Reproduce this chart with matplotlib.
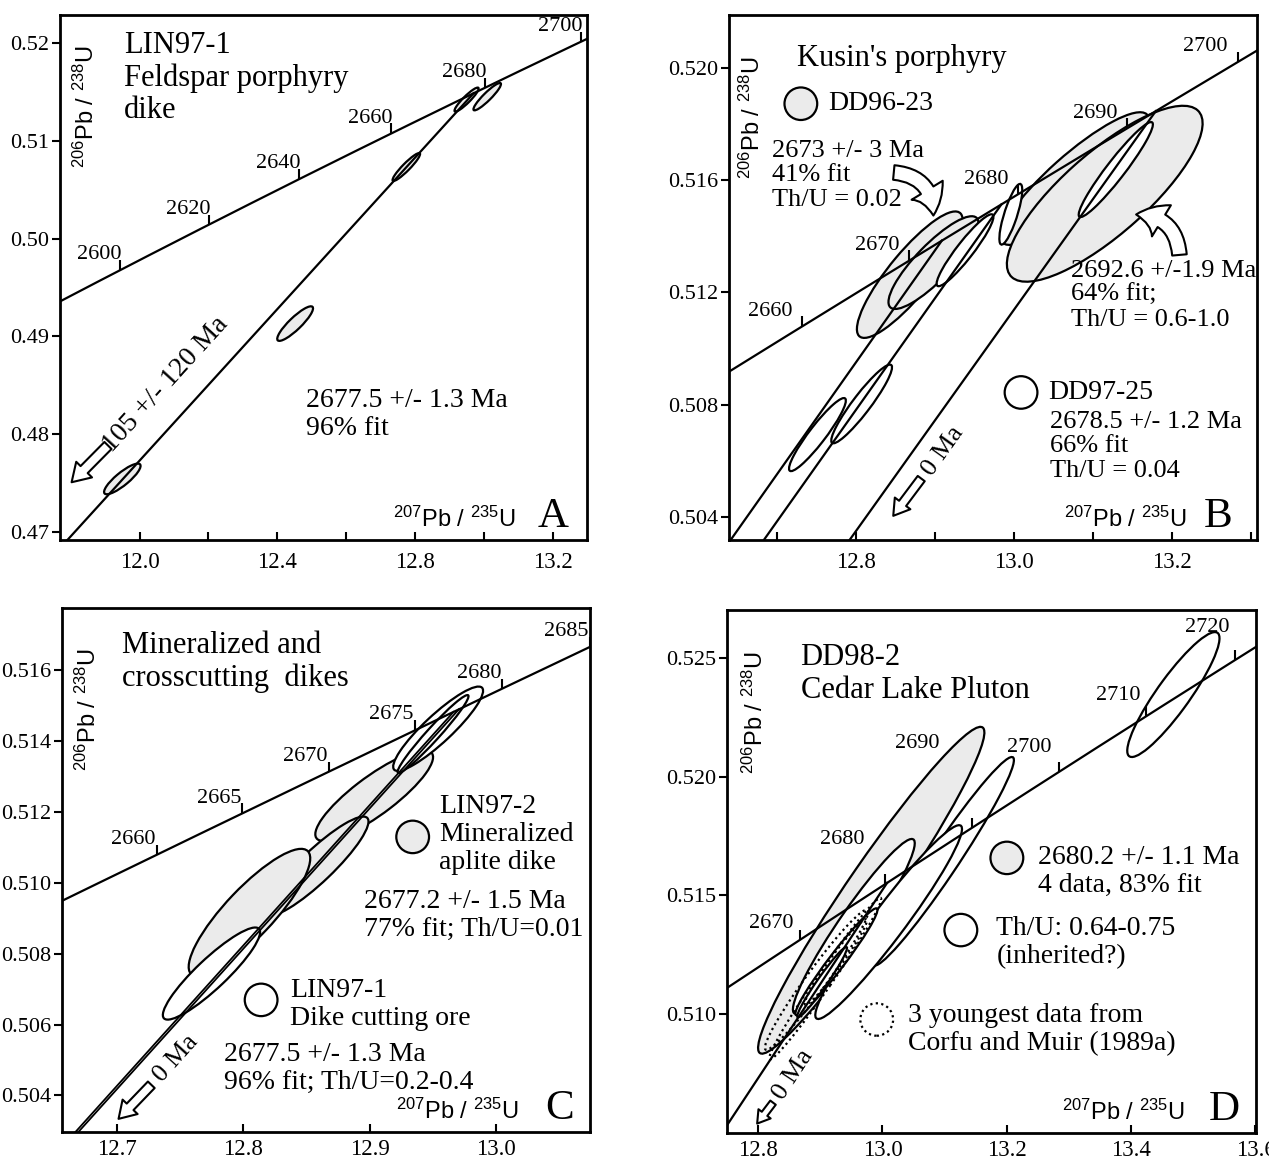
import numpy as np
import matplotlib.pyplot as plt
from matplotlib.patches import Ellipse, FancyArrowPatch, Circle
from matplotlib.transforms import Affine2D

plt.rcParams['font.family'] = ['Liberation Serif', 'DejaVu Serif']
plt.rcParams['mathtext.fontset'] = 'custom'
plt.rcParams['mathtext.rm'] = 'Liberation Sans'
plt.rcParams['mathtext.it'] = 'Liberation Sans:italic'

# decay constants (1/yr)
L238 = 1.55125e-10
L235 = 9.8485e-10
GRAY = '#ebebeb'

# ellipses: (207Pb/235U, 206Pb/238U, sx, sy, rho)

# --- A : LIN97-1 feldspar porphyry dike
a_xlim = (11.769, 13.30)
a_ylim = (0.46917, 0.52291)
a_xticks = [12.0, 12.4, 12.8, 13.2]
a_xminor = [12.2, 12.6, 13.0]
a_yticks = [0.47, 0.48, 0.49, 0.50, 0.51, 0.52]
a_ages = [2600, 2620, 2640, 2660, 2680, 2700]
a_gray = [(11.950, 0.47542, 0.053, 0.00157, 0.85),
          (12.452, 0.49132, 0.052, 0.00177, 0.88),
          (12.775, 0.50735, 0.040, 0.00143, 0.93),
          (12.950, 0.51425, 0.035, 0.00123, 0.92),
          (13.010, 0.51455, 0.040, 0.00140, 0.92)]
a_discordia = [(105, 2677.5)]

# --- B : Kusin's porphyry
b_xlim = (12.639, 13.308)
b_ylim = (0.50319, 0.52187)
b_xticks = [12.8, 13.0, 13.2]
b_xminor = [12.7, 12.9, 13.1, 13.3]
b_yticks = [0.504, 0.508, 0.512, 0.516, 0.520]
b_ages = [2660, 2670, 2680, 2690, 2700]
b_gray = [(12.868, 0.51263, 0.067, 0.00225, 0.86),
          (12.898, 0.51306, 0.057, 0.00165, 0.85),
          (13.077, 0.51605, 0.094, 0.00236, 0.88),
          (13.115, 0.51551, 0.124, 0.00313, 0.80)]
b_white = [(12.938, 0.51350, 0.036, 0.00128, 0.93),
           (12.751, 0.50694, 0.036, 0.00130, 0.93),
           (12.807, 0.50803, 0.0385, 0.00140, 0.93),
           (12.996, 0.51478, 0.0145, 0.00108, 0.80),
           (13.129, 0.51637, 0.047, 0.00169, 0.95)]
b_discordia = [(0, 2673), (0, 2678.5), (0, 2692.6)]

# --- C : mineralized and crosscutting dikes
c_xlim = (12.657, 13.074)
c_ylim = (0.50297, 0.51776)
c_xticks = [12.7, 12.8, 12.9, 13.0]
c_yticks = [0.504, 0.506, 0.508, 0.510, 0.512, 0.514, 0.516]
c_ages = [2660, 2665, 2670, 2675, 2680, 2685]
c_gray = [(12.9035, 0.51246, 0.0465, 0.00128, 0.85),
          (12.858, 0.51047, 0.041, 0.00140, 0.90),
          (12.805, 0.50916, 0.048, 0.00180, 0.85)]
c_white = [(12.954, 0.51435, 0.0355, 0.00119, 0.90),
           (12.950, 0.51420, 0.028, 0.00110, 0.97),
           (12.775, 0.50744, 0.0384, 0.00130, 0.90)]
c_discordia = [(0, 2677.2), (0, 2677.5)]

# --- D : DD98-2 Cedar Lake pluton
d_xlim = (12.750, 13.601)
d_ylim = (0.50500, 0.52702)
d_xticks = [12.8, 13.0, 13.2, 13.4, 13.6]
d_yticks = [0.510, 0.515, 0.520, 0.525]
d_ages = [2670, 2680, 2690, 2700, 2710, 2720]
d_gray = [(12.982, 0.51522, 0.182, 0.00688, 0.965)]
d_white = [(12.954, 0.51370, 0.098, 0.00368, 0.95),
           (13.098, 0.51644, 0.1135, 0.00439, 0.97),
           (13.010, 0.51388, 0.118, 0.00408, 0.96),
           (12.926, 0.51221, 0.066, 0.00225, 0.97),
           (13.468, 0.52346, 0.0742, 0.00263, 0.90),
           (12.903, 0.51135, 0.040, 0.00148, 0.97)]
d_dotted = [(12.894, 0.51145, 0.083, 0.00295, 0.97),
            (12.908, 0.51150, 0.090, 0.00340, 0.985),
            (12.925, 0.51220, 0.050, 0.00180, 0.97)]
d_discordia = [(0, 2680.2)]


def concordia(t):
    t = np.asarray(t, dtype=float) * 1e6
    return np.exp(L235 * t) - 1, np.exp(L238 * t) - 1


def setup(ax, xlim, ylim, xticks, xminor, yticks, yfmt, xpad=9):
    ax.set_xlim(xlim)
    ax.set_ylim(ylim)
    ax.set_xticks(xticks)
    ax.set_xticks(xminor, minor=True)
    ax.set_xticklabels([f'{v:.1f}' for v in xticks])
    ax.set_yticks(yticks)
    ax.set_yticklabels([yfmt.format(v) for v in yticks])
    ax.tick_params(axis='x', which='both', direction='in', length=6, width=1.5,
                   labelsize=16.5, pad=xpad)
    ax.tick_params(axis='y', direction='out', length=6, width=1.5, labelsize=16, pad=2)
    for s in ax.spines.values():
        s.set_linewidth(2)


def add_ellipse(ax, e, fc, ls='-'):
    x, y, sx, sy, rho = e
    tr = Affine2D().scale(sx, sy).translate(x, y) + ax.transData
    ax.add_patch(Ellipse((0, 0), 2 * np.sqrt(1 + rho), 2 * np.sqrt(1 - rho), angle=45,
                         transform=tr, fc=fc, ec='black', lw=1.6, ls=ls, zorder=2))


def draw_concordia(ax, ages, offsets):
    tt = np.arange(2400, 2800.1, 0.5)
    cx, cy = concordia(tt)
    ax.plot(cx, cy, color='black', lw=1.6, zorder=3)
    tx, ty = concordia(ages)
    ax.plot(tx, ty, ls='none', marker=2, ms=7, mew=1.5, color='black', zorder=3)
    for age, x, y, off in zip(ages, tx, ty, offsets):
        ax.annotate(str(age), (x, y), xytext=off, textcoords='offset points',
                    ha='center', va='center', fontsize=16, zorder=4)


def draw_discordia(ax, lines, lw=1.6):
    for lo, up in lines:
        x, y = concordia([lo, up])
        ax.plot(x, y, color='black', lw=lw, zorder=3)


def line_angle(ax, lo, up):
    x, y = concordia([lo, up])
    p = ax.transData.transform(np.column_stack([x, y]))
    return np.degrees(np.arctan2(p[1, 1] - p[0, 1], p[1, 0] - p[0, 0]))


def hollow_arrow(ax, start, end, rad=0.0, scale=16, hw=1.0, hl=0.8, tw=0.45):
    ax.add_patch(FancyArrowPatch(start, end, transform=ax.transAxes,
                                 arrowstyle=f'simple,head_length={hl},head_width={hw},tail_width={tw}',
                                 connectionstyle=f'arc3,rad={rad}', mutation_scale=scale,
                                 shrinkA=0, shrinkB=0, fc='white', ec='black', lw=1.5, zorder=5))


def labels(ax, ylab_pos, xlab_x, letter, letter_x):
    ax.text(ylab_pos[0], ylab_pos[1], r'$^{206}$Pb / $^{238}$U', rotation=90, ha='center',
            va='top', transform=ax.transAxes, fontsize=17, family='Liberation Sans')
    ax.text(xlab_x, 0.025, r'$^{207}$Pb / $^{235}$U', ha='right', va='baseline',
            transform=ax.transAxes, fontsize=17, family='Liberation Sans')
    ax.text(letter_x, 0.025, letter, ha='right', va='baseline', transform=ax.transAxes,
            fontsize=31)


def legend_mark(ax, x, y, fc, ls='-'):
    # legend circle, radius given in axes width
    ax.add_patch(Circle((x, y), 0.031, transform=ax.transAxes, fc=fc, ec='black',
                        lw=1.6, ls=ls, zorder=5))


fig = plt.figure(figsize=(12.69, 11.63), dpi=100)
axA = fig.add_axes([0.0473, 0.5357, 0.4153, 0.4514])
axB = fig.add_axes([0.5745, 0.5357, 0.4161, 0.4514])
axC = fig.add_axes([0.0489, 0.0267, 0.4161, 0.4506])
axD = fig.add_axes([0.5729, 0.0258, 0.4169, 0.4497])
txt = dict(fontsize=20, linespacing=1.15, va='top', ha='left')

# ---------- A
ax = axA
setup(ax, a_xlim, a_ylim, a_xticks, a_xminor, a_yticks, '{:.2f}')
for e in a_gray:
    add_ellipse(ax, e, GRAY)
draw_concordia(ax, a_ages, [(-15, 11)] * len(a_ages))
draw_discordia(ax, a_discordia)
ax.text(0.122, 0.97, 'LIN97-1\nFeldspar porphyry\ndike', transform=ax.transAxes,
        **dict(txt, fontsize=22))
ax.text(0.466, 0.289, '2677.5 +/- 1.3 Ma\n96% fit', transform=ax.transAxes, **txt)
ax.text(0.20, 0.296, '105 +/- 120 Ma', transform=ax.transAxes, fontsize=20,
        rotation=line_angle(ax, *a_discordia[0]), ha='center', va='center', rotation_mode='anchor')
hollow_arrow(ax, (0.091, 0.180), (0.022, 0.110))
labels(ax, (0.049, 0.942), 0.865, 'A', 0.965)

# ---------- B
ax = axB
setup(ax, b_xlim, b_ylim, b_xticks, b_xminor, b_yticks, '{:.3f}')
for e in b_gray:
    add_ellipse(ax, e, GRAY)
for e in b_white:
    add_ellipse(ax, e, 'white')
draw_concordia(ax, b_ages, [(-23, 11)] * len(b_ages))
draw_discordia(ax, b_discordia)
ax.text(0.128, 0.945, "Kusin's porphyry", transform=ax.transAxes, **dict(txt, fontsize=22))
legend_mark(ax, 0.136, 0.831, GRAY)
ax.text(0.187, 0.831, 'DD96-23', transform=ax.transAxes, fontsize=20, va='center')
ax.text(0.082, 0.762, '2673 +/- 3 Ma\n41% fit\nTh/U = 0.02', transform=ax.transAxes,
        **dict(txt, fontsize=19))
ax.text(0.647, 0.534, '2692.6 +/-1.9 Ma\n64% fit;\nTh/U = 0.6-1.0', transform=ax.transAxes,
        **dict(txt, fontsize=19))
legend_mark(ax, 0.553, 0.281, 'white')
ax.text(0.604, 0.281, 'DD97-25', transform=ax.transAxes, fontsize=20, va='center')
ax.text(0.608, 0.246, '2678.5 +/- 1.2 Ma\n66% fit\nTh/U = 0.04', transform=ax.transAxes,
        **dict(txt, fontsize=19))
ax.text(0.406, 0.169, '0 Ma', transform=ax.transAxes, fontsize=19,
        rotation=line_angle(ax, *b_discordia[2]), ha='center', va='center', rotation_mode='anchor')
hollow_arrow(ax, (0.364, 0.117), (0.311, 0.046), scale=14)
hollow_arrow(ax, (0.312, 0.700), (0.387, 0.618), rad=-0.45, scale=25, hw=1.05, hl=0.75, tw=0.42)
hollow_arrow(ax, (0.853, 0.543), (0.771, 0.620), rad=0.45, scale=25, hw=1.05, hl=0.75, tw=0.42)
labels(ax, (0.044, 0.921), 0.867, 'B', 0.954)

# ---------- C
ax = axC
setup(ax, c_xlim, c_ylim, c_xticks, [], c_yticks, '{:.3f}', xpad=5)
for e in c_gray:
    add_ellipse(ax, e, GRAY)
for e in c_white:
    add_ellipse(ax, e, 'white')
draw_concordia(ax, c_ages, [(-17, 11)] * len(c_ages))
draw_discordia(ax, c_discordia, lw=1.3)
ax.text(0.113, 0.956, 'Mineralized and\ncrosscutting  dikes', transform=ax.transAxes,
        **dict(txt, fontsize=22))
legend_mark(ax, 0.664, 0.563, GRAY)
ax.text(0.714, 0.645, 'LIN97-2\nMineralized\naplite dike', transform=ax.transAxes, **txt)
ax.text(0.571, 0.463, '2677.2 +/- 1.5 Ma\n77% fit; Th/U=0.01', transform=ax.transAxes, **txt)
legend_mark(ax, 0.377, 0.252, 'white')
ax.text(0.432, 0.294, 'LIN97-1\nDike cutting ore', transform=ax.transAxes, **txt)
ax.text(0.306, 0.172, '2677.5 +/- 1.3 Ma\n96% fit; Th/U=0.2-0.4', transform=ax.transAxes, **txt)
ax.text(0.216, 0.14, '0 Ma', transform=ax.transAxes, fontsize=19,
        rotation=line_angle(ax, *c_discordia[1]), ha='center', va='center', rotation_mode='anchor')
hollow_arrow(ax, (0.169, 0.090), (0.107, 0.025), scale=15)
labels(ax, (0.049, 0.924), 0.866, 'C', 0.969)

# ---------- D
ax = axD
setup(ax, d_xlim, d_ylim, d_xticks, [], d_yticks, '{:.3f}', xpad=5)
for e in d_gray:
    add_ellipse(ax, e, GRAY)
for e in d_white:
    add_ellipse(ax, e, 'white')
for e in d_dotted:
    add_ellipse(ax, e, 'none', ls=(0, (1, 1.5)))
draw_concordia(ax, d_ages, [(-21, 12), (-31, 32), (-39, 61), (-21, 18), (-20, 15), (-20, 23)])
draw_discordia(ax, d_discordia)
ax.text(0.139, 0.936, 'DD98-2\nCedar Lake Pluton', transform=ax.transAxes, **dict(txt, fontsize=22))
legend_mark(ax, 0.529, 0.526, GRAY)
ax.text(0.588, 0.551, '2680.2 +/- 1.1 Ma\n4 data, 83% fit', transform=ax.transAxes, **txt)
legend_mark(ax, 0.442, 0.388, 'white')
ax.text(0.509, 0.414, 'Th/U: 0.64-0.75\n(inherited?)', transform=ax.transAxes, **txt)
legend_mark(ax, 0.283, 0.217, 'none', ls=(0, (1, 1.5)))
ax.text(0.342, 0.248, '3 youngest data from\nCorfu and Muir (1989a)', transform=ax.transAxes, **txt)
ax.text(0.125, 0.111, '0 Ma', transform=ax.transAxes, fontsize=19,
        rotation=line_angle(ax, *d_discordia[0]), ha='center', va='center', rotation_mode='anchor')
hollow_arrow(ax, (0.087, 0.058), (0.057, 0.018), scale=11)
labels(ax, (0.053, 0.922), 0.866, 'D', 0.970)

fig.savefig('out.png', dpi=100)
